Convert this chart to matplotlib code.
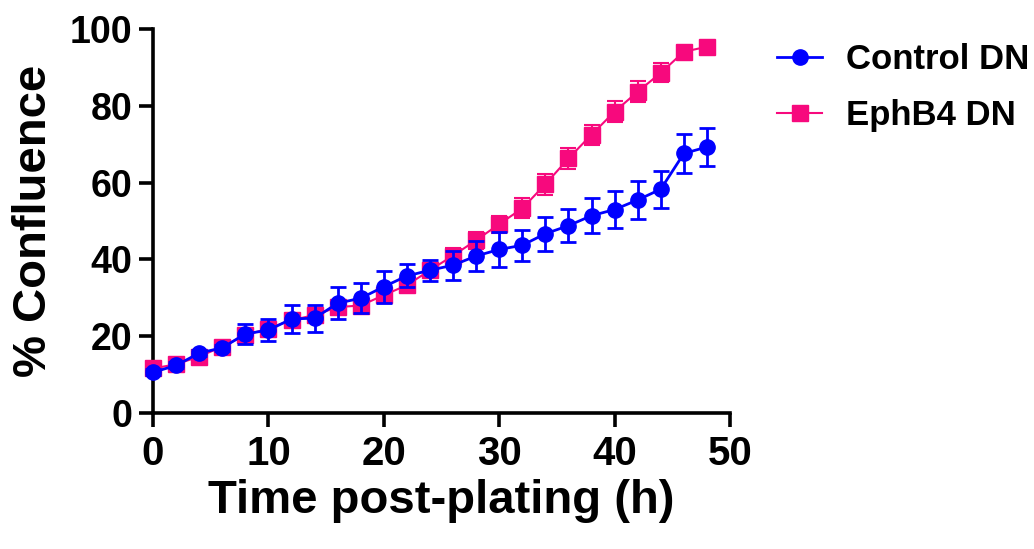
import numpy as np
import matplotlib
matplotlib.use("Agg")
import matplotlib.pyplot as plt
from matplotlib.lines import Line2D

plt.rcParams['font.family'] = ['Liberation Sans', 'DejaVu Sans']
plt.rcParams['font.weight'] = 'bold'

# time points (h)
hours = [0, 2, 4, 6, 8, 10, 12, 14, 16, 18, 20, 22, 24,
         26, 28, 30, 32, 34, 36, 38, 40, 42, 44, 46, 48]

# % confluence, mean and error
control_mean = [10.6, 12.4, 15.6, 17.0, 20.6, 21.6, 24.5, 24.7, 28.6, 29.9, 32.9, 35.7, 37.2,
                38.5, 40.9, 42.6, 43.7, 46.7, 48.8, 51.4, 53.0, 55.5, 58.3, 67.6, 69.3]
control_err = [0.8, 0.8, 0.8, 0.8, 2.5, 2.9, 3.6, 3.5, 4.2, 3.9, 4.2, 3.0, 2.7,
               3.8, 3.9, 4.5, 4.0, 4.4, 4.3, 4.6, 4.9, 5.0, 4.8, 5.0, 4.9]

ephb4_mean = [11.6, 12.7, 14.7, 17.3, 20.3, 22.0, 24.2, 25.5, 27.6, 28.0, 30.7, 33.3, 37.2,
              41.0, 45.0, 49.2, 53.3, 59.6, 66.3, 72.5, 78.5, 83.7, 88.6, 94.1, 95.4]
ephb4_err = [0.8, 0.8, 0.8, 0.8, 1.0, 1.0, 1.2, 1.5, 1.5, 1.5, 1.5, 1.5, 1.8,
             2.0, 2.2, 2.2, 2.6, 2.7, 2.7, 2.6, 2.7, 2.7, 2.5, 1.5, 1.0]

x_ticks = [0, 10, 20, 30, 40, 50]
y_ticks = [0, 20, 40, 60, 80, 100]

blue = '#0000FF'
pink = '#F7097D'

fig = plt.figure(figsize=(10.34, 5.49), dpi=100)
ax = fig.add_axes([0.148, 0.2477, 0.558, 0.6993])

ax.errorbar(hours, ephb4_mean, yerr=ephb4_err, color=pink, marker='s', markersize=11,
            linewidth=1.5, elinewidth=1.5, capsize=6, capthick=1.5,
            clip_on=False, zorder=3)
ax.errorbar(hours, control_mean, yerr=control_err, color=blue, marker='o', markersize=11,
            linewidth=2, elinewidth=2, capsize=6, capthick=2,
            clip_on=False, zorder=4)

ax.set_xlim(0, 50)
ax.set_ylim(0, 100)
ax.set_xticks(x_ticks)
ax.set_yticks(y_ticks)

for side in ['top', 'right']:
    ax.spines[side].set_visible(False)
for side in ['left', 'bottom']:
    ax.spines[side].set_linewidth(2.6)

ax.tick_params(axis='both', which='major', length=10, width=2.6)
ax.tick_params(axis='y', labelsize=27, pad=5)
ax.tick_params(axis='x', labelsize=29, pad=6)
for lbl in ax.get_xticklabels() + ax.get_yticklabels():
    lbl.set_fontweight('bold')

ax.set_xlabel('Time post-plating (h)', fontsize=34, fontweight='bold', labelpad=4)
ax.set_ylabel('% Confluence', fontsize=34, fontweight='bold', labelpad=10)

handles = [Line2D([], [], color=blue, marker='o', markersize=11, linewidth=2),
           Line2D([], [], color=pink, marker='s', markersize=11, linewidth=1.5)]
labels = ['Control DN', 'EphB4 DN']
fig.legend(handles, labels, loc='upper left', bbox_to_anchor=(0.7515, 0.922),
           bbox_transform=fig.transFigure, frameon=False, borderpad=0, borderaxespad=0,
           handlelength=1.3, handletextpad=0.7, labelspacing=0.68,
           prop={'weight': 'bold', 'size': 25})

fig.savefig('out.png', dpi=100)
